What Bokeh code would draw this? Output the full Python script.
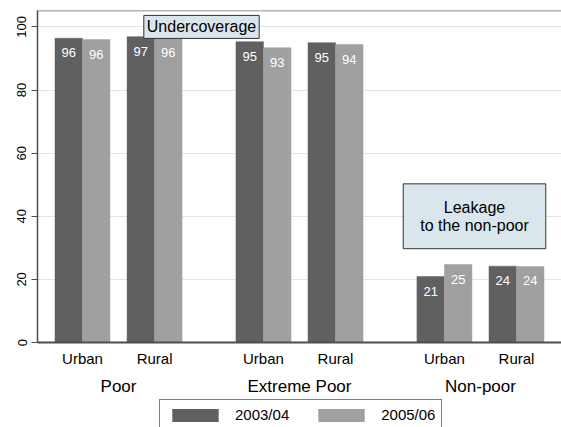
from bokeh.plotting import figure
from bokeh.layouts import column
from bokeh.models import (FactorRange, Range1d, ColumnDataSource, Label, Legend,
                          LegendItem, FixedTicker, Span)
from bokeh.transform import dodge
from bokeh.core.properties import value
from bokeh.embed import file_html
from bokeh.resources import INLINE

# ---- data ----
groups = ["Poor", "Extreme Poor", "Non-poor"]
areas = ["Urban", "Rural"]
years = ["2003/04", "2005/06"]
v_2003 = [96.4, 96.9, 95.3, 95.0, 20.9, 24.2]
v_2005 = [96.0, 96.4, 93.4, 94.4, 24.7, 24.1]
y_ticks = [0, 20, 40, 60, 80, 100]

FONT = "Liberation Sans"
DARK = "#606060"
LIGHT = "#a0a0a0"
Y_TOP = 105.2

factors = [(g, a) for g in groups for a in areas]
src = ColumnDataSource(dict(
    x=factors,
    y1=v_2003, y2=v_2005,
    l1=[f"{v:.0f}" for v in v_2003],
    l2=[f"{v:.0f}" for v in v_2005],
))

x_range = FactorRange(*factors, factor_padding=0.31, group_padding=0.98,
                      range_padding=0.318, range_padding_units="absolute")

p = figure(width=561, height=398, x_range=x_range, y_range=Range1d(0, Y_TOP),
           output_backend="svg", toolbar_location=None,
           min_border_left=37, min_border_right=0, min_border_top=10,
           min_border_bottom=55)
p.outline_line_color = None
p.background_fill_color = "white"
p.border_fill_color = "white"

bar_specs = [("y1", "l1", -0.25, DARK), ("y2", "l2", 0.25, LIGHT)]
for yc, lc, off, colr in bar_specs:
    p.vbar(x=dodge("x", off, range=p.x_range), top=yc, width=0.5, source=src,
           fill_color=colr, line_color=colr, line_width=0.5)
    p.text(x=dodge("x", off, range=p.x_range), y=yc, text=lc, source=src,
           text_color="white", text_align="center", text_baseline="top",
           y_offset=10, text_font=value(FONT), text_font_size="13px")

# top border line
p.add_layout(Span(location=Y_TOP, dimension="width", line_color="#6e6e6e", line_width=1.5))

# axes
p.yaxis.ticker = FixedTicker(ticks=y_ticks)
p.yaxis.major_label_orientation = "vertical"
p.yaxis.major_tick_out = 6
p.yaxis.major_tick_in = 0
p.yaxis.minor_tick_line_color = None
p.yaxis.major_label_standoff = 5
p.yaxis.major_label_text_font = FONT
p.yaxis.major_label_text_font_size = "13px"
p.yaxis.major_label_text_color = "black"
p.yaxis.axis_line_color = "#4d4d4d"
p.yaxis.axis_line_width = 1.5
p.yaxis.major_tick_line_color = "#4d4d4d"

p.xaxis.major_tick_line_color = None
p.xaxis.major_tick_out = 0
p.xaxis.major_label_standoff = 7
p.xaxis.major_label_text_font = FONT
p.xaxis.major_label_text_font_size = "15px"
p.xaxis.major_label_text_color = "black"
p.xaxis.group_text_font = FONT
p.xaxis.group_text_font_size = "17px"
p.xaxis.group_text_font_style = "normal"
p.xaxis.group_text_color = "black"
p.xaxis.separator_line_color = None
p.xaxis.axis_line_color = "#4d4d4d"
p.xaxis.axis_line_width = 2

p.xgrid.visible = False
p.ygrid.ticker = FixedTicker(ticks=y_ticks[1:])
p.ygrid.grid_line_color = "#e4e4e4"
p.ygrid.grid_line_width = 1

# annotations
p.add_layout(Label(x=164, y=100, x_units="screen", y_units="data", text="Undercoverage",
                   text_align="center", text_baseline="middle", text_font=FONT,
                   text_font_size="16px", text_color="black",
                   background_fill_color="#d9e6ec", border_line_color="#333333",
                   border_line_width=1, padding=3))
p.add_layout(Label(x=437, y=40, x_units="screen", y_units="data",
                   text="Leakage\nto the non-poor",
                   text_align="center", text_baseline="middle", text_font=FONT,
                   text_font_size="16px", text_line_height=1.05, text_color="black",
                   background_fill_color="#d9e6ec", border_line_color="#333333",
                   border_line_width=1,
                   padding=dict(left=17, right=17, top=15, bottom=15)))

# ---- legend strip below the chart (shares the category axis; its bars fall outside its view) ----
q = figure(width=561, height=29, output_backend="svg", toolbar_location=None,
           x_axis_type=None, y_axis_type=None, min_border=0,
           min_border_left=37, min_border_right=0,
           x_range=p.x_range, y_range=Range1d(200, 201))
q.outline_line_color = None
q.grid.visible = False
q.background_fill_color = "white"
q.border_fill_color = "white"
k1 = q.vbar(x=dodge("x", -0.25, range=q.x_range), top="y1", width=0.5, source=src,
            fill_color=DARK, line_color=None)
k2 = q.vbar(x=dodge("x", 0.25, range=q.x_range), top="y2", width=0.5, source=src,
            fill_color=LIGHT, line_color=None)

legend = Legend(items=[LegendItem(label=years[0], renderers=[k1]),
                       LegendItem(label=years[1], renderers=[k2])],
                orientation="horizontal", location=(122, -3),
                glyph_width=58, glyph_height=16, label_height=16,
                label_standoff=11, spacing=23,
                padding=6, margin=0, border_line_color="black", border_line_width=1,
                label_text_font=FONT, label_text_font_size="15px",
                label_text_color="black", background_fill_color="white",
                background_fill_alpha=1)
q.add_layout(legend)

layout = column(p, q, spacing=0)
open("out.html", "w").write(file_html(layout, INLINE))
